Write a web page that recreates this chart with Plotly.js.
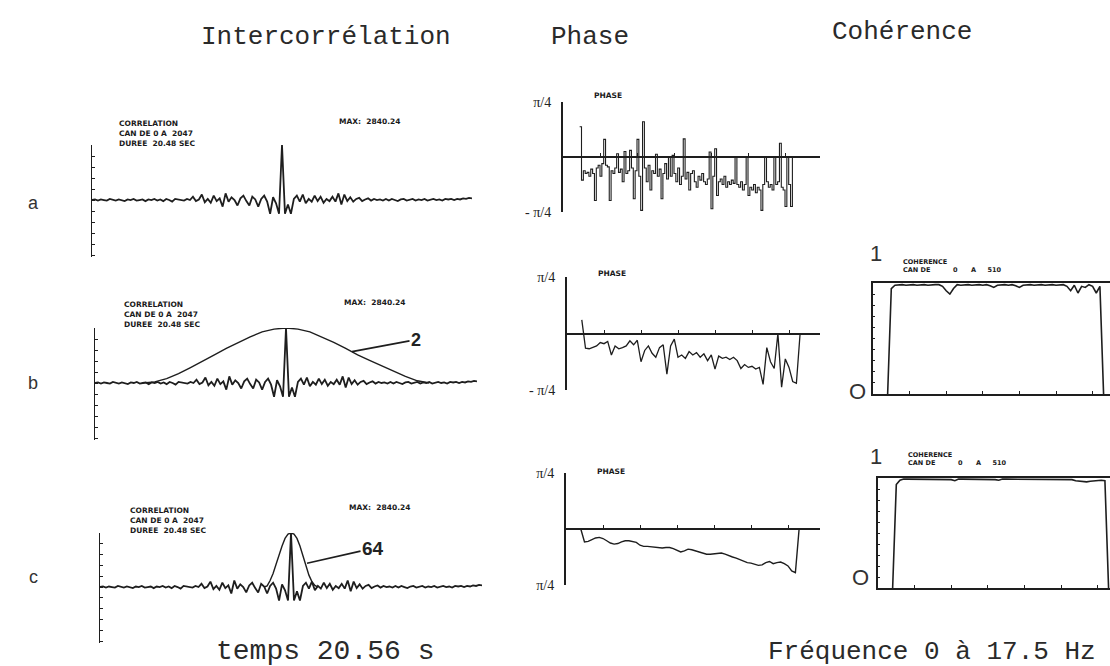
<!DOCTYPE html>
<html>
<head>
<meta charset="utf-8">
<script src="https://cdn.plot.ly/plotly-3.0.1.min.js"></script>
<style>html,body{margin:0;padding:0;background:#fff;}#chart{width:1110px;height:666px;}</style>
</head>
<body>
<div id="chart"></div>
<script>
// ---------------- DATA ----------------
// Cross-correlation (shared by rows a, b, c), lag in seconds, sampled every 0.16 s from -10.24 s
const corrLagStart = -10.24, corrLagStep = 0.16;
const corrNoise = [
  0, 0.01, -0.01, 0.01, 0, -0.01, 0.02, 0, -0.01, 0.01,
  0, -0.02, 0.01, 0, 0.02, -0.01, 0, 0.01, -0.02, 0.01,
  0, 0.02, -0.01, 0.01, -0.02, 0.02, 0, -0.03, 0.02, 0.01,
  0.01, -0.01, 0.02, 0, 0.06, -0.02, 0.01, 0.1, -0.04, 0.02,
  -0.05, 0.08, -0.02, 0.03, -0.12, 0.12, -0.03, 0.05, 0, -0.1,
  0.03, 0.08, -0.02, -0.1, 0.06, 0.01, -0.12, 0.02, 0.08, -0.03,
  -0.25, 0.05, -0.06, -0.25, 1.0, -0.25, -0.08, -0.25, 0.02, 0.08,
  -0.03, 0.1, -0.06, 0.02, -0.03, 0.08, -0.02, 0.06, -0.05, 0.02,
  -0.02, 0.06, -0.03, 0.12, -0.08, 0.1, -0.02, 0.05, -0.03, 0.02,
  0.04, -0.02, 0.01, 0.03, -0.01, 0.02, 0, 0.01, -0.01, 0.02,
  -0.01, 0.02, 0, -0.02, 0.01, 0.02, -0.01, 0, 0.02, -0.01,
  0.01, 0, 0.02, -0.01, 0.01, 0.02, 0, 0.01, -0.01, 0.02,
  0.01, 0.02, 0, 0.02, 0.01, 0.03, 0.02, 0.04, 0.03
];
// Smoothing window "2" (row b), sampled every 0.64 s from -7.68 s
const win2LagStart = -7.68, win2LagStep = 0.64;
const win2 = [0, 0.02, 0.08, 0.17, 0.28, 0.39, 0.51, 0.63, 0.74, 0.84, 0.93, 0.98, 1.0,
              0.98, 0.93, 0.84, 0.74, 0.63, 0.51, 0.41, 0.31, 0.21, 0.12, 0.04, 0];
const win2Label = "2";
// Smoothing window "64" (row c), sampled every 0.16 s from -1.44 s
const win64LagStart = -1.44, win64LagStep = 0.16;
const win64 = [0, 0.02, 0.12, 0.25, 0.42, 0.6, 0.76, 0.9, 0.98, 1.0,
               0.98, 0.9, 0.76, 0.58, 0.38, 0.22, 0.1, 0.03, 0];
const win64Label = "64";
const corrHeader = ["CORRELATION", "CAN DE 0 A\u00a0\u00a02047", "DUREE\u00a0\u00a020.48 SEC"];
const corrMax = "MAX:\u00a0\u00a02840.24";

// Phase (units of pi/4), row a sampled every 0.125 Hz from 1.125 Hz
const phaseAStart = 1.125, phaseAStep = 0.125;
const phaseA = [
  0.55, -0.42, -0.25, -0.3, -0.28, -0.35, -0.22, -0.3, -0.79, -0.2,
  -0.15, -0.35, -0.12, 0.32, -0.15, -0.18, -0.79, -0.25, -0.3, -0.2,
  0.06, -0.28, -0.22, -0.45, 0.1, -0.3, -0.25, 0.12, -0.2, -0.76,
  -0.25, 0.32, -0.35, -0.97, 0.64, -0.2, -0.45, -0.15, -0.6, -0.25,
  -0.3, 0.05, -0.35, -0.22, -0.76, -0.3, -0.12, -0.4, 0.0, -0.35,
  0.03, -0.3, -0.45, -0.2, -0.5, -0.35, 0.33, -0.4, -0.28, -0.6,
  -0.3, -0.25, -0.45, -0.55, -0.35, -0.42, -0.3, -0.45, -0.5, -0.4,
  0.09, -0.94, -0.35, 0.15, -0.7, -0.45, -0.4, -0.5, -0.35, -0.55,
  -0.45, -0.5, -0.42, -0.48, 0.0, -0.5, -0.55, -0.45, -0.6, -0.5,
  0.0, -0.7, -0.55, -0.6, -0.5, -0.65, -0.55, -0.6, -0.97, -0.5,
  0.0, -0.45, -0.55, -0.5, -0.6, 0.0, -0.5, -0.45, 0.25, -0.55,
  -0.6, -0.9, 0.0, -0.5, -0.9, 0.0
];
// Rows b, c (phase and coherence) sampled every 0.25 Hz from 1.0 Hz
const freqStart = 1.0, freqStep = 0.25;
const phaseB = [
  0.24, -0.26, -0.27, -0.25, -0.22, -0.16, -0.18, -0.14, -0.38, -0.22,
  -0.27, -0.25, -0.22, -0.13, -0.2, -0.12, -0.5, -0.3, -0.22, -0.35,
  -0.42, -0.25, -0.2, -0.72, -0.22, -0.1, -0.42, -0.38, -0.44, -0.32,
  -0.38, -0.34, -0.42, -0.36, -0.48, -0.38, -0.63, -0.4, -0.44, -0.42,
  -0.46, -0.42, -0.48, -0.62, -0.55, -0.6, -0.58, -0.63, -0.6, -0.9,
  -0.25, -0.5, -0.62, 0.0, -0.95, -0.45, -0.6, -0.85, -0.88, 0
];
const phaseC = [
  0, -0.23, -0.22, -0.19, -0.16, -0.15, -0.17, -0.21, -0.25, -0.27,
  -0.26, -0.23, -0.21, -0.21, -0.22, -0.24, -0.29, -0.31, -0.31, -0.32,
  -0.33, -0.33, -0.34, -0.33, -0.33, -0.35, -0.38, -0.41, -0.39, -0.36,
  -0.37, -0.39, -0.41, -0.43, -0.45, -0.45, -0.44, -0.43, -0.43, -0.45,
  -0.48, -0.5, -0.52, -0.55, -0.58, -0.6, -0.61, -0.63, -0.65, -0.64,
  -0.6, -0.58, -0.62, -0.6, -0.59, -0.62, -0.66, -0.75, -0.78, 0
];
const cohB = [
  0, 0.95, 0.98, 0.985, 0.985, 0.98, 0.985, 0.985, 0.98, 0.985,
  0.985, 0.98, 0.985, 0.985, 0.985, 0.97, 0.93, 0.9, 0.95, 0.985,
  0.98, 0.985, 0.985, 0.98, 0.985, 0.985, 0.98, 0.985, 0.975, 0.96,
  0.98, 0.985, 0.985, 0.98, 0.985, 0.975, 0.96, 0.98, 0.985, 0.985,
  0.98, 0.985, 0.985, 0.98, 0.985, 0.985, 0.98, 0.985, 0.985, 0.97,
  0.93, 0.98, 0.91, 0.97, 0.96, 0.985, 0.97, 0.91, 0.97, 0
];
const cohC = [
  0, 0.94, 0.98, 0.99, 0.99, 0.99, 0.99, 0.99, 0.99, 0.99,
  0.99, 0.99, 0.99, 0.99, 0.99, 0.99, 0.985, 0.975, 0.99, 0.99,
  0.99, 0.99, 0.99, 0.99, 0.99, 0.99, 0.99, 0.99, 0.985, 0.98,
  0.99, 0.99, 0.99, 0.99, 0.99, 0.99, 0.99, 0.99, 0.99, 0.99,
  0.99, 0.99, 0.99, 0.99, 0.99, 0.99, 0.99, 0.99, 0.99, 0.985,
  0.975, 0.97, 0.965, 0.965, 0.97, 0.975, 0.975, 0.98, 0.975, 0
];
const NB = n => '\u00a0'.repeat(n);
const cohHeader = ["COHERENCE", "CAN DE" + NB(10) + "0" + NB(6) + "A" + NB(5) + "510"];
const phaseTicks = {a: ["\u03c0/4", "- \u03c0/4"], b: ["\u03c0/4", "- \u03c0/4"], c: ["\u03c0/4", "\u03c0/4"]};
const rowLabels = ["a", "b", "c"];
const columnTitles = ["Intercorrélation", "Phase", "Cohérence"];
const timeLabel = "temps 20.56 s";
const freqLabel = "Fréquence 0 à 17.5 Hz";

// ---------------- HELPERS ----------------
const W = 1110, H = 666;
const grid = (start, step, n) => Array.from({length: n}, (_, i) => +(start + i * step).toFixed(4));
const hdom = (l, r) => [l / W, r / W];
const vdom = (top, bottom) => [1 - bottom / H, 1 - top / H];
const PX = x => x / W, PY = y => 1 - y / H;
const INK = '#1e1e1e';

const corrLag = grid(corrLagStart, corrLagStep, corrNoise.length);
const win2Lag = grid(win2LagStart, win2LagStep, win2.length);
const win64Lag = grid(win64LagStart, win64LagStep, win64.length);
const freqA = grid(phaseAStart, phaseAStep, phaseA.length);
const freqBC = grid(freqStart, freqStep, phaseB.length);

const line = (x, y, xa, ya, extra) => Object.assign({
  x, y, xaxis: xa, yaxis: ya, type: 'scatter', mode: 'lines',
  line: {color: INK, width: 1.4}, hoverinfo: 'skip', showlegend: false
}, extra || {});
const noiseLine = {line: {color: INK, width: 1.8}};

const traces = [
  line(corrLag, corrNoise, 'x', 'y', noiseLine),
  line(corrLag, corrNoise, 'x2', 'y2', noiseLine),
  line(win2Lag, win2, 'x2', 'y2'),
  line(corrLag, corrNoise, 'x3', 'y3', noiseLine),
  line(win64Lag, win64, 'x3', 'y3'),
  line(freqA, phaseA, 'x4', 'y4', {line: {color: INK, width: 1.1, shape: 'hv'}}),
  line(freqBC, phaseB, 'x5', 'y5', {line: {color: INK, width: 1.3}}),
  line(freqBC, phaseC, 'x6', 'y6', {line: {color: INK, width: 1.4}}),
  line(freqBC, cohB, 'x7', 'y7', {line: {color: INK, width: 1.6}}),
  line(freqBC, cohC, 'x8', 'y8', {line: {color: INK, width: 1.6}})
];

// ---------------- AXES ----------------
const corrX = (l, r) => ({domain: hdom(l, r), range: [-10.24, 10.24], visible: false, fixedrange: true});
const corrY = (top, bottom, xa) => ({domain: vdom(top, bottom), range: [-1.036, 1.0], anchor: xa,
  showline: true, linecolor: INK, linewidth: 1.5, ticks: 'inside', ticklen: 3, tickcolor: INK,
  tickwidth: 1, dtick: 0.2, tick0: 0, showticklabels: false, showgrid: false, zeroline: false});
const phX = (l, r, top, bottom, ya) => {
  const d = vdom(top, bottom);
  return {domain: hdom(l, r), range: [0, (r - l) / 14.8], anchor: 'free', position: (d[0] + d[1]) / 2,
    showline: true, linecolor: INK, linewidth: 2, ticks: 'inside', ticklen: 3, tickcolor: INK,
    dtick: 2.5, tick0: 0, showticklabels: false, showgrid: false, zeroline: false};
};
const phY = (top, bottom, xa, labels) => ({domain: vdom(top, bottom), range: [-1, 1], anchor: xa,
  showline: true, linecolor: INK, linewidth: 2, ticks: '', tickmode: 'array', tickvals: [1, -1],
  ticktext: labels, ticklabelstandoff: 7, tickfont: {family: 'Liberation Serif', size: 14, color: '#222'},
  showgrid: false, zeroline: false});
const cohX = (l, r, ya) => ({domain: hdom(l, r), range: [0, (r - l) / 14.64], anchor: ya,
  showline: true, mirror: true, linecolor: INK, linewidth: 1.6, ticks: 'inside', ticklen: 3, tickcolor: INK,
  dtick: 2.5, tick0: 0, showticklabels: false, showgrid: false, zeroline: false});
const cohY = (top, bottom, xa) => ({domain: vdom(top, bottom), range: [0, 1], anchor: xa,
  showline: true, mirror: true, linecolor: INK, linewidth: 1.6, ticks: 'inside', ticklen: 2, tickcolor: INK,
  dtick: 0.1, tick0: 0, showticklabels: false, showgrid: false, zeroline: false});

const layout = {
  width: W, height: H, autosize: false,
  margin: {l: 0, r: 0, t: 0, b: 0, pad: 0},
  paper_bgcolor: '#ffffff', plot_bgcolor: 'rgba(0,0,0,0)',
  xaxis: corrX(92, 472), yaxis: corrY(145, 257, 'x'),
  xaxis2: corrX(95, 477), yaxis2: corrY(328, 440, 'x2'),
  xaxis3: corrX(100, 482), yaxis3: corrY(533, 643, 'x3'),
  xaxis4: phX(563, 820, 102, 212, 'y4'), yaxis4: phY(102, 212, 'x4', phaseTicks.a),
  xaxis5: phX(567, 820, 277, 390, 'y5'), yaxis5: phY(277, 390, 'x5', phaseTicks.b),
  xaxis6: phX(566, 820, 473, 585, 'y6'), yaxis6: phY(473, 585, 'x6', phaseTicks.c),
  xaxis7: cohX(873, 1110, 'y7'), yaxis7: cohY(283, 394, 'x7'),
  xaxis8: cohX(878, 1110, 'y8'), yaxis8: cohY(478, 588, 'x8'),
  annotations: []
};

// ---------------- TEXT ----------------
const ann = (text, x, y, font, xanchor, yanchor) => layout.annotations.push({
  text, x: PX(x), y: PY(y), xref: 'paper', yref: 'paper', showarrow: false,
  xanchor: xanchor || 'center', yanchor: yanchor || 'middle', align: 'left', font, borderpad: 0
});
const typew = (size) => ({family: 'Liberation Mono, Courier New, monospace', size, color: '#2a2a2a'});
const plotter = (size) => ({family: 'DejaVu Sans, sans-serif', size, color: '#1a1a1a', weight: 'bold'});
const sans = (size) => ({family: 'Liberation Sans, Arial, sans-serif', size, color: '#333'});

ann(columnTitles[0], 326, 37, typew(26));
ann(columnTitles[1], 590, 37, typew(26));
ann(columnTitles[2], 902, 32, typew(26));
ann(timeLabel, 325, 651, typew(28));
ann(freqLabel, 932, 652, typew(26));

ann(rowLabels[0], 33, 203, sans(18));
ann(rowLabels[1], 33, 383, sans(18));
ann(rowLabels[2], 33, 577, sans(18));

[[118, 118, 338, 122], [123, 299, 343, 302], [129, 505, 348, 507]].forEach(([x, y, mx, my]) => {
  ann(corrHeader.join('<br>'), x, y, plotter(7.5), 'left', 'top');
  ann(corrMax, mx, my, plotter(7.5), 'left');
});
ann("PHASE", 593, 96, plotter(7.5), 'left');
ann("PHASE", 597, 274, plotter(7.5), 'left');
ann("PHASE", 596, 471, plotter(7.5), 'left');

[[902, 257, 254, 392, 857], [907, 450, 456, 577, 860]].forEach(([x, y, oneY, zeroY, zeroX]) => {
  ann(cohHeader.join('<br>'), x, y, plotter(6.5), 'left', 'top');
  ann("1", 876, oneY, sans(22));
  ann("O", zeroX, zeroY, sans(22));
});

// window labels with leader lines, pointing at a sample of each window curve
layout.annotations.push({text: win2Label, xref: 'x2', yref: 'y2', x: win2Lag[18] - 0.3, y: 0.57,
  showarrow: true, arrowhead: 0, arrowwidth: 1.6, arrowcolor: INK, ax: 64, ay: -12, standoff: 0,
  font: {family: 'Liberation Sans, Arial', size: 18, color: '#222', weight: 'bold'}});
layout.annotations.push({text: win64Label, xref: 'x3', yref: 'y3', x: win64Lag[14] + 0.06, y: 0.44,
  showarrow: true, arrowhead: 0, arrowwidth: 1.6, arrowcolor: INK, ax: 66, ay: -15, standoff: 0,
  font: {family: 'Liberation Sans, Arial', size: 19, color: '#222', weight: 'bold'}});

Plotly.newPlot('chart', traces, layout, {staticPlot: true, displayModeBar: false});
</script>
</body>
</html>
